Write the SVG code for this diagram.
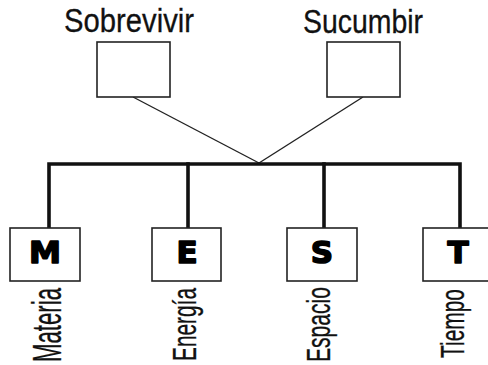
<svg xmlns="http://www.w3.org/2000/svg" width="488" height="365" viewBox="0 0 488 365">
<style>
.box{fill:#fff;stroke:#222;stroke-width:1.6}
.thin{stroke:#222;stroke-width:1.4;fill:none}
.thick{stroke:#111;stroke-width:3.6;fill:none;stroke-linecap:square}
.top{font-family:"Liberation Sans",Arial,sans-serif;font-size:33px;fill:#111;stroke:#111;stroke-width:0.3}
.lab{font-family:"Liberation Sans",Arial,sans-serif;fill:#111;stroke:#111;stroke-width:0.3}
.big{font-family:"DejaVu Sans",sans-serif;font-weight:bold;font-size:31px;fill:#000;stroke:#000;stroke-width:1.6;stroke-linejoin:round;text-anchor:middle}
</style>
<rect width="488" height="365" fill="#fff"/>
<g id="connectors">
<line class="thin" x1="133" y1="97" x2="259" y2="163"/>
<line class="thin" x1="363" y1="97" x2="259" y2="163"/>
<polyline class="thick" points="49,228 49,164 460,164 460,228"/>
<line class="thick" x1="188" y1="164" x2="188" y2="228"/>
<line class="thick" x1="324" y1="164" x2="324" y2="228"/>
</g>
<g id="sobrevivir">
<text class="top" x="64" y="32" textLength="130" lengthAdjust="spacingAndGlyphs">Sobrevivir</text>
<rect class="box" x="97" y="42" width="73" height="55"/>
</g>
<g id="sucumbir">
<text class="top" x="303" y="33" textLength="120" lengthAdjust="spacingAndGlyphs">Sucumbir</text>
<rect class="box" x="327" y="42" width="73" height="55"/>
</g>
<g id="materia">
<rect class="box" x="10" y="228" width="70" height="53"/>
<text class="big" x="45" y="263" textLength="32" lengthAdjust="spacingAndGlyphs">M</text>
<text class="lab" font-size="41" transform="translate(61,362) rotate(-90)" textLength="74" lengthAdjust="spacingAndGlyphs">Materia</text>
</g>
<g id="energia">
<rect class="box" x="152" y="228" width="69" height="53"/>
<text class="big" x="187" y="263">E</text>
<text class="lab" font-size="33" transform="translate(196,361) rotate(-90)" textLength="73" lengthAdjust="spacingAndGlyphs">Energía</text>
</g>
<g id="espacio">
<rect class="box" x="287" y="228" width="70" height="53"/>
<text class="big" x="322" y="263">S</text>
<text class="lab" font-size="33" transform="translate(330,362) rotate(-90)" textLength="75" lengthAdjust="spacingAndGlyphs">Espacio</text>
</g>
<g id="tiempo">
<rect class="box" x="423" y="228" width="70" height="53"/>
<text class="big" x="458" y="263">T</text>
<text class="lab" font-size="33" transform="translate(464,358) rotate(-90)" textLength="69" lengthAdjust="spacingAndGlyphs">Tiempo</text>
</g>
</svg>
